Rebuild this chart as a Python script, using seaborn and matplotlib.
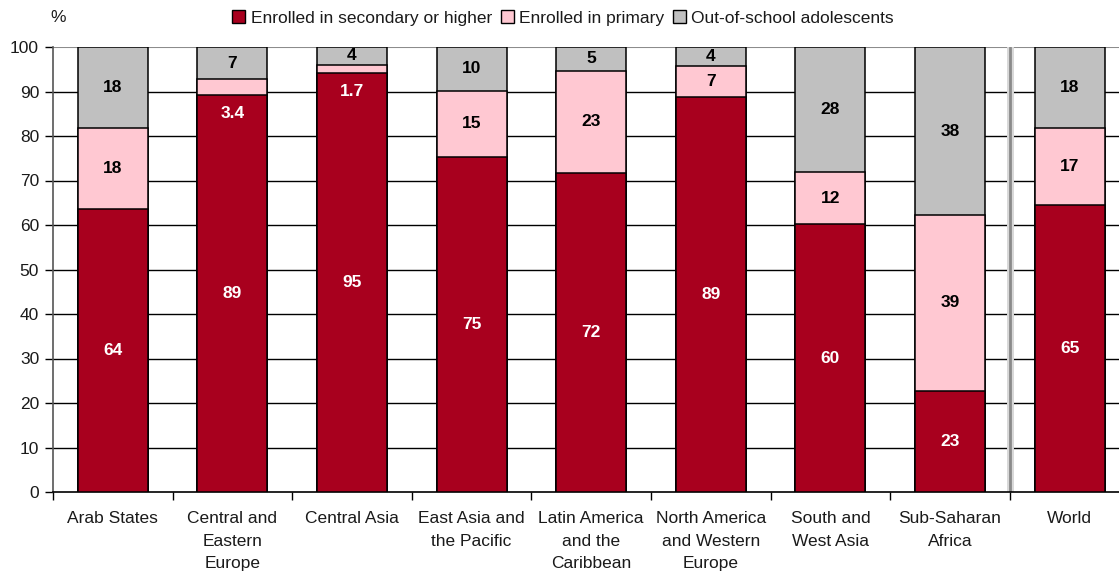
import matplotlib
matplotlib.use("Agg")
import matplotlib.pyplot as plt
import seaborn as sns
import pandas as pd
import numpy as np
from matplotlib.patches import Patch

categories = ["Arab States", "Central and\nEastern\nEurope", "Central Asia",
              "East Asia and\nthe Pacific", "Latin America\nand the\nCaribbean",
              "North America\nand Western\nEurope", "South and\nWest Asia",
              "Sub-Saharan\nAfrica", "World"]
secondary = [63.7, 89.2, 94.2, 75.3, 71.6, 88.8, 60.2, 22.8, 64.6]
primary = [18.1, 3.5, 1.8, 14.9, 23.1, 6.9, 11.7, 39.4, 17.2]
out_school = [18.2, 7.3, 4.0, 9.8, 5.3, 4.3, 28.1, 37.8, 18.2]
sec_labels = ["64", "89", "95", "75", "72", "89", "60", "23", "65"]
prim_labels = ["18", "3.4", "1.7", "15", "23", "7", "12", "39", "17"]
out_labels = ["18", "7", "4", "10", "5", "4", "28", "38", "18"]
series_names = ["Enrolled in secondary or higher", "Enrolled in primary", "Out-of-school adolescents"]

sns.set_theme(style="white")
plt.rcParams["font.family"] = ["Liberation Sans", "DejaVu Sans"]

C_SEC = "#A8001E"
C_PRI = "#FFC8D2"
C_OUT = "#C0C0C0"

df = pd.DataFrame({"cat": categories, "sec": secondary, "pri": primary, "out": out_school})
df["l1"] = df["sec"]
df["l2"] = df["sec"] + df["pri"]
df["l3"] = df["l2"] + df["out"]

fig = plt.figure(figsize=(11.19, 5.73), dpi=100)
W, H = 1119, 573
x0, x1 = 53, 53 + 9 * 119.6
y0, y1 = 492, 47
ax = fig.add_axes([x0 / W, (H - y0) / H, (x1 - x0) / W, (y0 - y1) / H])

for col, color in [("l3", C_OUT), ("l2", C_PRI), ("l1", C_SEC)]:
    sns.barplot(data=df, x="cat", y=col, order=categories, color=color,
                width=0.585, edgecolor="black", linewidth=1.1, saturation=1,
                ax=ax, zorder=3)

ax.set_xlim(-0.5, 8.5)
ax.set_ylim(0, 100)
ax.set_yticks(np.arange(0, 101, 10))
for v in range(10, 100, 10):
    ax.axhline(v, color="black", lw=1, zorder=1)
ax.axhline(100, color="#8c8c8c", lw=1.5, zorder=1)
ax.axvline(7.5, color="#d8d8d8", lw=5, zorder=2)
ax.axvline(7.5, color="#8a8a8a", lw=2, zorder=2)

for s in ["top", "right"]:
    ax.spines[s].set_visible(False)
ax.spines["left"].set_color("#555555")
ax.spines["bottom"].set_color("black")
ax.spines["left"].set_linewidth(1.2)
ax.spines["bottom"].set_linewidth(1.2)

ax.set_xlabel("")
ax.set_ylabel("")
ax.set_xticks(range(len(categories)))
ax.set_xticklabels(categories, fontsize=12.5, color="#1a1a1a", linespacing=1.6, va="top")
ax.tick_params(axis="x", length=0, pad=14)
ax.set_xticks(np.arange(-0.5, 9, 1.0), minor=True)
ax.tick_params(axis="x", which="minor", length=6, width=1, color="black", direction="out", bottom=True)
ax.tick_params(axis="y", length=6, width=1, color="black", direction="out", left=True,
               labelsize=12.5, labelcolor="#1a1a1a", pad=4)

# labels
for i in range(len(categories)):
    s, p, o = secondary[i], primary[i], out_school[i]
    ax.text(i, s / 2, sec_labels[i], ha="center", va="center", color="white",
            fontsize=12.5, fontweight="bold", zorder=5)
    if p < 5:
        ax.text(i, s - 4.2, prim_labels[i], ha="center", va="center", color="white",
                fontsize=12.5, fontweight="bold", zorder=5)
    else:
        ax.text(i, s + p / 2, prim_labels[i], ha="center", va="center", color="black",
                fontsize=12.5, fontweight="bold", zorder=5)
    ax.text(i, s + p + o / 2, out_labels[i], ha="center", va="center", color="black",
            fontsize=12.5, fontweight="bold", zorder=5)

fig.text(50 / W, 1 - 18 / H, "%", ha="left", va="center", fontsize=12.5, color="#1a1a1a")

handles = [Patch(facecolor=c, edgecolor="black", linewidth=1) for c in (C_SEC, C_PRI, C_OUT)]
fig.legend(handles, series_names, loc="center", bbox_to_anchor=(563 / W, 1 - 18 / H),
           ncol=3, frameon=False, fontsize=12.5, handlelength=0.75, handleheight=0.75,
           handletextpad=0.3, columnspacing=0.5, borderpad=0, labelcolor="#1a1a1a")

fig.savefig("out.png", dpi=100)
